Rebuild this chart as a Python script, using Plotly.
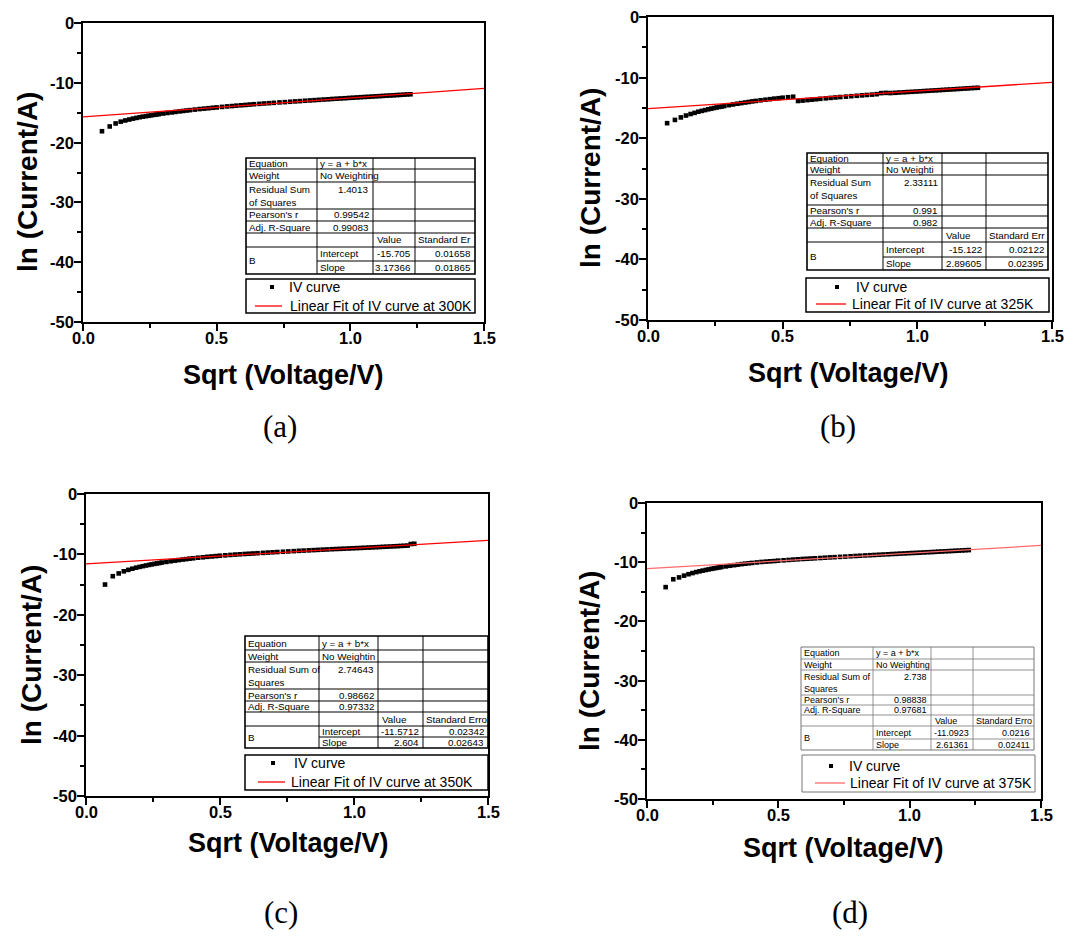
import plotly.graph_objects as go

W, H = 1067, 936

# ---- measured data: sqrt of bias voltage and ln of current at four temperatures ----
sqrt_voltage = [
    0.071, 0.100, 0.122, 0.141, 0.158, 0.173, 0.187, 0.200, 0.212, 0.224,
    0.235, 0.245, 0.255, 0.265, 0.274, 0.283, 0.300, 0.316, 0.332, 0.346,
    0.361, 0.374, 0.387, 0.400, 0.418, 0.436, 0.453, 0.469, 0.485, 0.500,
    0.520, 0.539, 0.557, 0.574, 0.592, 0.608, 0.624, 0.640, 0.660, 0.678,
    0.696, 0.714, 0.735, 0.755, 0.775, 0.794, 0.812, 0.831, 0.849, 0.866,
    0.883, 0.900, 0.917, 0.933, 0.949, 0.964, 0.980, 0.995, 1.010, 1.025,
    1.039, 1.054, 1.068, 1.082, 1.095, 1.109, 1.122, 1.136, 1.149, 1.162,
    1.175, 1.187, 1.200, 1.212, 1.225,
]

ln_current_300k = [
    -18.10, -17.30, -16.80, -16.50, -16.30, -16.14, -15.99, -15.87, -15.76, -15.66,
    -15.58, -15.51, -15.44, -15.36, -15.31, -15.25, -15.14, -15.04, -14.95, -14.87,
    -14.78, -14.71, -14.64, -14.57, -14.48, -14.39, -14.32, -14.25, -14.18, -14.12,
    -14.03, -13.95, -13.89, -13.82, -13.76, -13.70, -13.64, -13.58, -13.52, -13.46,
    -13.41, -13.35, -13.28, -13.23, -13.17, -13.11, -13.06, -13.00, -12.95, -12.90,
    -12.85, -12.80, -12.76, -12.70, -12.66, -12.62, -12.58, -12.53, -12.49, -12.45,
    -12.41, -12.37, -12.34, -12.30, -12.26, -12.23, -12.19, -12.15, -12.12, -12.09,
    -12.05, -12.02, -11.98, -11.95, -11.92,
]

ln_current_325k = [
    -17.52, -16.98, -16.57, -16.26, -16.01, -15.82, -15.63, -15.49, -15.36, -15.23,
    -15.12, -15.02, -14.93, -14.84, -14.77, -14.69, -14.55, -14.43, -14.31, -14.21,
    -14.11, -14.02, -13.93, -13.85, -13.75, -13.65, -13.56, -13.47, -13.40, -13.32,
    -13.24, -13.16, -13.86, -13.79, -13.71, -13.64, -13.57, -13.50, -13.42, -13.35,
    -13.28, -13.21, -13.14, -13.07, -13.00, -12.93, -12.87, -12.81, -12.74, -12.56,
    -12.52, -12.55, -12.51, -12.46, -12.42, -12.38, -12.34, -12.30, -12.26, -12.22,
    -12.18, -12.14, -12.11, -12.07, -12.03, -11.99, -11.96, -11.92, -11.88, -11.85,
    -11.81, -11.78, -11.74, -11.71, -11.68,
]

ln_current_350k = [
    -14.99, -13.61, -13.15, -12.80, -12.56, -12.37, -12.20, -12.07, -11.95, -11.84,
    -11.74, -11.65, -11.57, -11.49, -11.42, -11.35, -11.24, -11.13, -11.03, -10.94,
    -10.85, -10.78, -10.70, -10.64, -10.55, -10.48, -10.40, -10.34, -10.28, -10.22,
    -10.15, -10.09, -10.03, -9.98, -9.93, -9.89, -9.85, -9.80, -9.75, -9.70,
    -9.65, -9.61, -9.56, -9.51, -9.46, -9.41, -9.37, -9.33, -9.29, -9.25,
    -9.21, -9.18, -9.14, -9.11, -9.08, -9.05, -9.02, -8.99, -8.96, -8.93,
    -8.90, -8.87, -8.84, -8.81, -8.78, -8.75, -8.72, -8.69, -8.66, -8.63,
    -8.60, -8.57, -8.54, -8.28, -8.24,
]

ln_current_375k = [
    -14.21, -12.88, -12.57, -12.27, -12.03, -11.84, -11.67, -11.54, -11.42, -11.31,
    -11.21, -11.12, -11.04, -10.96, -10.89, -10.82, -10.71, -10.60, -10.50, -10.41,
    -10.32, -10.25, -10.18, -10.12, -10.04, -9.96, -9.90, -9.85, -9.80, -9.74,
    -9.68, -9.62, -9.56, -9.51, -9.46, -9.42, -9.38, -9.34, -9.29, -9.24,
    -9.19, -9.15, -9.10, -9.05, -9.00, -8.95, -8.91, -8.86, -8.82, -8.78,
    -8.74, -8.70, -8.66, -8.62, -8.59, -8.55, -8.52, -8.48, -8.45, -8.42,
    -8.39, -8.35, -8.32, -8.29, -8.26, -8.22, -8.19, -8.16, -8.13, -8.10,
    -8.07, -8.04, -8.01, -7.98, -7.95,
]

ln_current = [ln_current_300k, ln_current_325k, ln_current_350k, ln_current_375k]

# ---- linear fit results (y = a + b*x) ----
temperatures = ["300K", "325K", "350K", "375K"]
fit_intercept = [-15.705, -15.122, -11.5712, -11.0923]
fit_slope = [3.17366, 2.89605, 2.604, 2.61361]
intercept_err = ["0.01658", "0.02122", "0.02342", "0.0216"]
slope_err = ["0.01865", "0.02395", "0.02643", "0.02411"]
residual_ss = ["1.4013", "2.33111", "2.74643", "2.738"]
pearson_r = ["0.99542", "0.991", "0.98662", "0.98838"]
adj_r_square = ["0.99083", "0.982", "0.97332", "0.97681"]
weight_text = ["No Weighting", "No Weighti", "No Weightin", "No Weighting"]
stderr_header = ["Standard Er", "Standard Err", "Standard Erro", "Standard Erro"]
rss_label = ["Residual Sum<br>of Squares", "Residual Sum<br>of Squares",
             "Residual Sum of<br>Squares", "Residual Sum of<br>Squares"]
panel_tags = ["(a)", "(b)", "(c)", "(d)"]

x_title = "Sqrt (Voltage/V)"
y_title = "ln (Current/A)"
x_range = [0, 1.5]
y_range = [-50, 0]
x_ticks = [0.0, 0.5, 1.0, 1.5]
x_ticktext = ["0.0", "0.5", "1.0", "1.5"]
y_ticks = [-50, -40, -30, -20, -10, 0]
y_ticktext = ["-50", "-40", "-30", "-20", "-10", "0"]
x_minor = [0.25, 0.75, 1.25]
y_minor = [-45, -35, -25, -15, -5]

# ---- layout geometry (pixels from the top-left corner) ----
plot_boxes = [(83, 23, 484, 322), (648, 17, 1052, 320),
              (86, 494, 488, 796), (647, 503, 1041, 799)]
x_title_pos = [(283, 375), (848, 373), (288, 843), (843, 848)]
y_title_pos = [(28, 182), (590, 178), (31, 655), (589, 661)]
table_cols = [[246, 317, 373, 415, 475], [807, 883, 942, 986, 1048],
              [245, 319, 378, 423, 488], [801, 873, 931, 973, 1034]]
table_rows = [[158, 169, 182, 209, 221, 233, 247, 261, 274],
              [153, 163, 175, 205, 216, 228, 242, 257, 270],
              [636, 650, 662, 689, 701, 712, 726, 737, 748],
              [647, 659, 670, 695, 705, 715, 726, 739, 750]]
table_font = [9.8, 9.8, 9.8, 9]
# legend frame (left, top, right, bottom), symbol and text offsets
legend_boxes = [(246, 279, 475, 313), (806, 278, 1049, 312),
                (245, 755, 488, 790), (802, 755, 1035, 792)]
legend_dot_dx = [26, 31, 28, 29]
legend_text1_dx = [42, 49, 48, 46]
legend_line_dx = [(9, 36), (10, 40), (13, 40), (13, 43)]
legend_text2_dx = [43, 45, 45, 47]
legend_row_dy = [(8, 27), (9, 26), (8, 27), (11, 28)]
tag_pos = [(280, 427), (838, 427), (281, 912), (850, 912)]
fit_colors = ["#ff0000", "#ff0000", "#ff0000", "#ff6b6b"]
table_line = ["#000000", "#000000", "#000000", "#777777"]
legend_border = ["#000000", "#000000", "#000000", "#777777"]


def fx(p):
    return p / W


def fy(p):
    return 1 - p / H


FONT = "Liberation Sans"
fig = go.Figure()
layout = dict(
    width=W, height=H,
    margin=dict(l=0, r=0, t=0, b=0, autoexpand=False),
    paper_bgcolor="white", plot_bgcolor="white",
    showlegend=False,
    font=dict(family=FONT, color="black"),
)

annotations = []
shapes = []


def text_at(text, x, y, size, anchor="left", yanchor="middle", family=FONT, angle=0):
    annotations.append(dict(
        text=text, xref="paper", yref="paper", x=fx(x), y=fy(y),
        xanchor=anchor, yanchor=yanchor, showarrow=False, align=anchor,
        textangle=angle, borderpad=0,
        font=dict(family=family, size=size, color="black"),
    ))


def hline(x0, x1, y, color, width):
    shapes.append(dict(type="line", xref="paper", yref="paper",
                       x0=fx(x0), x1=fx(x1), y0=fy(y), y1=fy(y),
                       line=dict(color=color, width=width)))


def vline(x, y0, y1, color, width):
    shapes.append(dict(type="line", xref="paper", yref="paper",
                       x0=fx(x), x1=fx(x), y0=fy(y0), y1=fy(y1),
                       line=dict(color=color, width=width)))


tick_font = dict(family=FONT, size=16.5, color="black")

for i in range(4):
    sfx = "" if i == 0 else str(i + 1)
    xa, ya = "x" + sfx, "y" + sfx
    left, top, right, bottom = plot_boxes[i]

    fig.add_trace(go.Scatter(
        x=sqrt_voltage, y=ln_current[i], xaxis=xa, yaxis=ya,
        mode="markers", name="IV curve",
        marker=dict(symbol="square", size=4.6, color="black", line=dict(width=0)),
    ))
    fit_y = [fit_intercept[i] + fit_slope[i] * x for x in x_range]
    fig.add_trace(go.Scatter(
        x=x_range, y=fit_y, xaxis=xa, yaxis=ya,
        mode="lines", name="Linear Fit of IV curve at " + temperatures[i],
        line=dict(color=fit_colors[i], width=1.3),
    ))

    common = dict(
        showline=True, linewidth=2, linecolor="black", mirror=True,
        ticks="outside", ticklen=7, tickwidth=2, tickcolor="black",
        showgrid=False, zeroline=False, showticklabels=False, automargin=False,
    )
    layout["xaxis" + sfx] = dict(
        common, domain=[fx(left), fx(right)], anchor=ya, range=x_range,
        tickmode="array", tickvals=x_ticks,
        minor=dict(tickmode="array", tickvals=x_minor, ticks="outside",
                   ticklen=4, tickwidth=2, tickcolor="black"),
    )
    layout["yaxis" + sfx] = dict(
        common, domain=[fy(bottom), fy(top)], anchor=xa, range=y_range,
        tickmode="array", tickvals=y_ticks,
        minor=dict(tickmode="array", tickvals=y_minor, ticks="outside",
                   ticklen=4, tickwidth=2, tickcolor="black"),
    )

    # bold tick labels placed on the axis scales
    for v, t in zip(x_ticks, x_ticktext):
        annotations.append(dict(
            text="<b>%s</b>" % t, xref=xa, x=v, yref=ya + " domain", y=0,
            xanchor="center", yanchor="top", yshift=-6,
            showarrow=False, borderpad=0, font=tick_font,
        ))
    for v, t in zip(y_ticks, y_ticktext):
        annotations.append(dict(
            text="<b>%s</b>" % t, xref=xa + " domain", x=0, yref=ya, y=v,
            xanchor="right", yanchor="middle", xshift=-8,
            showarrow=False, borderpad=0, font=tick_font,
        ))

    xtx, xty = x_title_pos[i]
    text_at("<b>%s</b>" % x_title, xtx, xty, 27, anchor="center")
    ytx, yty = y_title_pos[i]
    text_at("<b>%s</b>" % y_title, ytx, yty, 28, anchor="center", angle=-90)

    # legend frame with symbols and entries
    lx0, ly0, lx1, ly1 = legend_boxes[i]
    lw = 1.5 if i < 3 else 1
    shapes.append(dict(type="rect", xref="paper", yref="paper",
                       x0=fx(lx0), x1=fx(lx1), y0=fy(ly1), y1=fy(ly0),
                       fillcolor="white", line=dict(color=legend_border[i], width=lw)))
    r1 = ly0 + legend_row_dy[i][0]
    r2 = ly0 + legend_row_dy[i][1]
    dx = lx0 + legend_dot_dx[i]
    shapes.append(dict(type="rect", xref="paper", yref="paper",
                       x0=fx(dx - 2), x1=fx(dx + 2), y0=fy(r1 + 2), y1=fy(r1 - 2),
                       fillcolor="black", line=dict(width=0)))
    text_at("IV curve", lx0 + legend_text1_dx[i], r1, 14)
    a0, a1 = legend_line_dx[i]
    hline(lx0 + a0, lx0 + a1, r2, fit_colors[i], 1.3)
    text_at("Linear Fit of IV curve at " + temperatures[i],
            lx0 + legend_text2_dx[i], r2, 14)

    # fit statistics table
    c = table_cols[i]
    r = table_rows[i]
    lc = table_line[i]
    lw_in = 1 if i < 3 else 0.8
    for k in (1, 2, 3):
        vline(c[k], r[0], r[8], lc, lw_in)
    for k in range(1, 8):
        hline(c[1] if k == 7 else c[0], c[4], r[k], lc, lw_in)
    shapes.append(dict(type="rect", xref="paper", yref="paper",
                       x0=fx(c[0]), x1=fx(c[4]), y0=fy(r[8]), y1=fy(r[0]),
                       line=dict(color=lc, width=1.6 if i < 3 else 1)))

    fs = table_font[i]

    def mid(k):
        return (r[k] + r[k + 1]) / 2

    text_at("Equation", c[0] + 2, mid(0), fs)
    text_at("y = a + b*x", c[1] + 2, mid(0), fs)
    text_at("Weight", c[0] + 2, mid(1), fs)
    text_at(weight_text[i], c[1] + 2, mid(1), fs)
    text_at(rss_label[i], c[0] + 2, r[2] + 1, fs, yanchor="top")
    text_at(residual_ss[i], c[2] - 3, r[2] + 1, fs, anchor="right", yanchor="top")
    text_at("Pearson's r", c[0] + 2, mid(3), fs)
    text_at(pearson_r[i], c[2] - 3, mid(3), fs, anchor="right")
    text_at("Adj. R-Square", c[0] + 2, mid(4), fs)
    text_at(adj_r_square[i], c[2] - 3, mid(4), fs, anchor="right")
    text_at("Value", c[2] + 3, mid(5), fs)
    text_at(stderr_header[i], c[3] + 2, mid(5), fs)
    text_at("B", c[0] + 2, (r[6] + r[8]) / 2, fs)
    text_at("Intercept", c[1] + 2, mid(6), fs)
    text_at(str(fit_intercept[i]), c[3] - 3, mid(6), fs, anchor="right")
    text_at(intercept_err[i], c[4] - 3, mid(6), fs, anchor="right")
    text_at("Slope", c[1] + 2, mid(7), fs)
    text_at(str(fit_slope[i]), c[3] - 3, mid(7), fs, anchor="right")
    text_at(slope_err[i], c[4] - 3, mid(7), fs, anchor="right")

    tx, ty = tag_pos[i]
    text_at(panel_tags[i], tx, ty, 31, anchor="center", family="Liberation Serif")

layout["annotations"] = annotations
layout["shapes"] = shapes
fig.update_layout(**layout)

fig.write_html("out.html")
